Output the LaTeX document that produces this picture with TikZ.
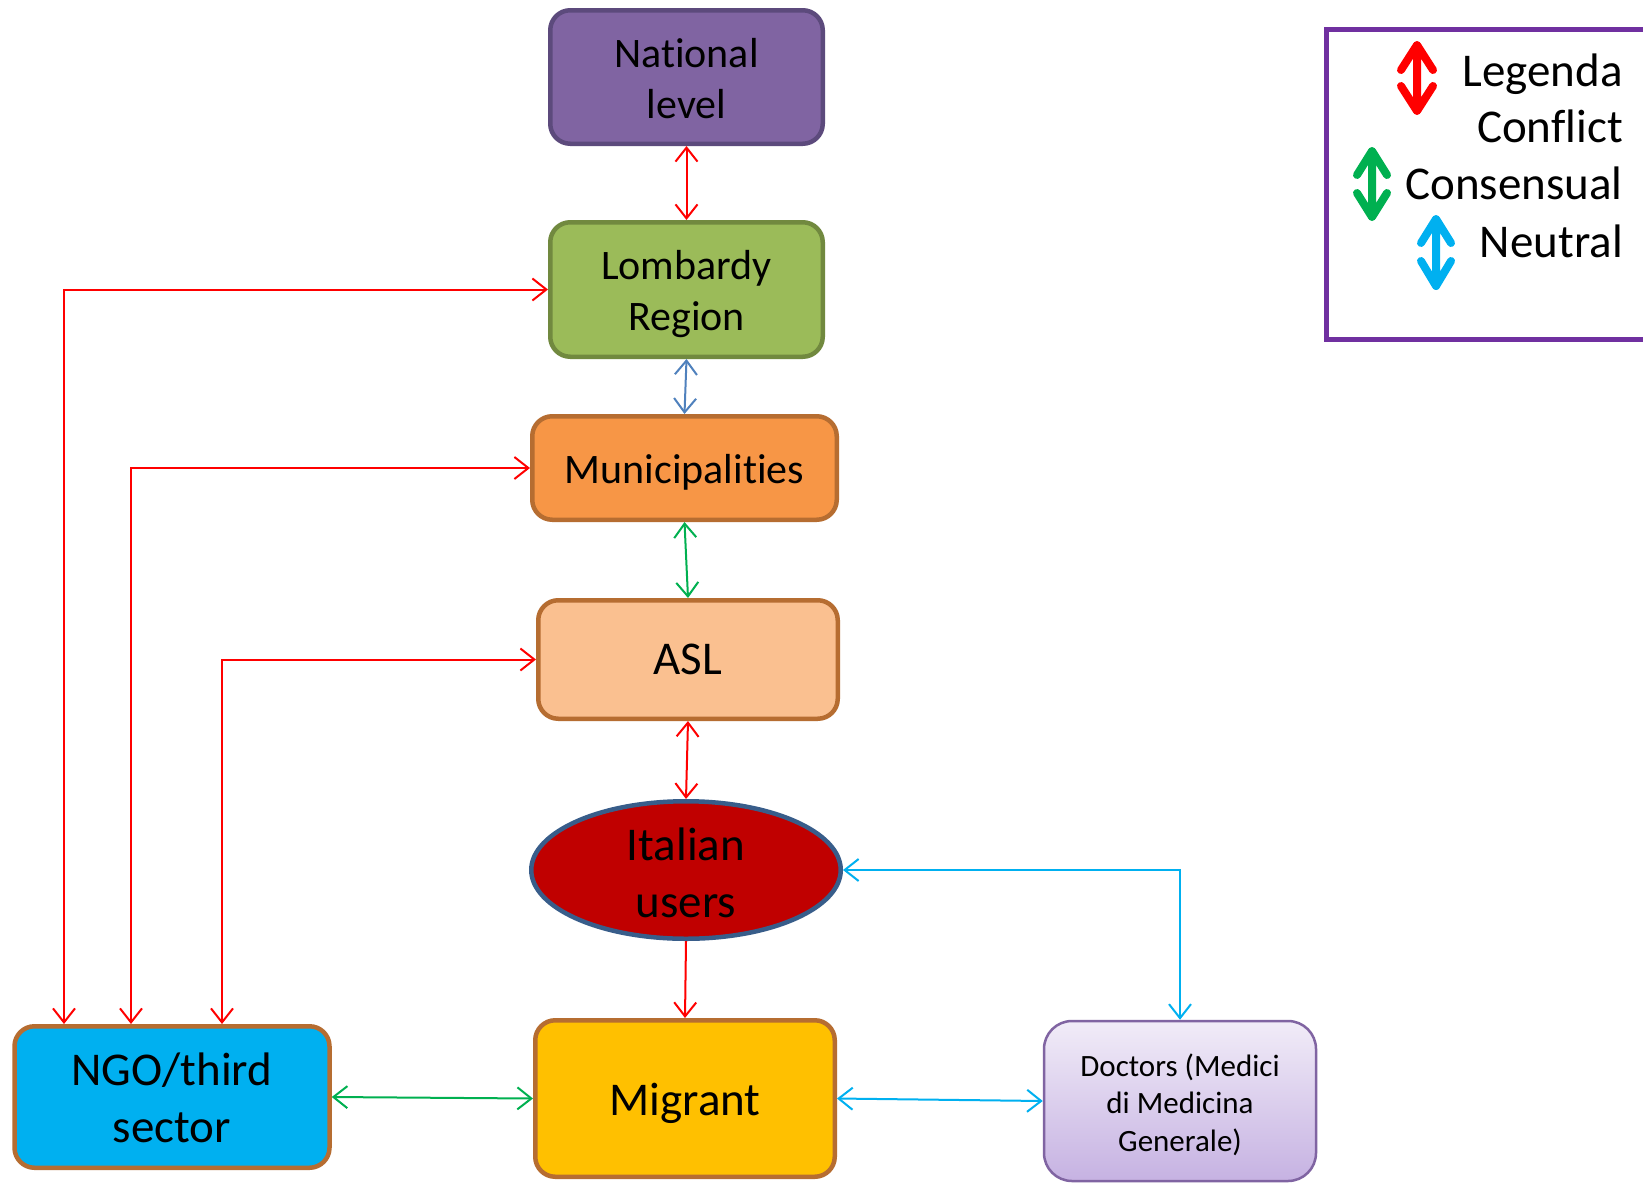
\documentclass[tikz,border=0pt]{standalone}
\usepackage{fontspec}
\setmainfont[Ligatures={NoCommon}]{Carlito}
\usetikzlibrary{arrows.meta,shapes.geometric}
\definecolor{cRed}{HTML}{FF0000}
\definecolor{cGreen}{HTML}{00B050}
\definecolor{cCyan}{HTML}{00B0F0}
\definecolor{cSteel}{HTML}{4F81BD}
\definecolor{natFill}{HTML}{8064A2}
\definecolor{natLine}{HTML}{5C4A7C}
\definecolor{lomFill}{HTML}{9BBB59}
\definecolor{lomLine}{HTML}{71893F}
\definecolor{munFill}{HTML}{F79646}
\definecolor{brownLine}{HTML}{B66D31}
\definecolor{aslFill}{HTML}{FAC090}
\definecolor{itaFill}{HTML}{C00000}
\definecolor{itaLine}{HTML}{385D8A}
\definecolor{migFill}{HTML}{FFC000}
\definecolor{ngoFill}{HTML}{00B0F0}
\definecolor{docTop}{HTML}{F1ECF8}
\definecolor{docBot}{HTML}{C6B2E2}
\definecolor{docLine}{HTML}{8064A2}
\definecolor{legLine}{HTML}{7030A0}
\begin{document}
\begin{tikzpicture}[x=1pt,y=-1pt,
  box/.style={draw, line width=4.5pt, rounded corners=20pt, inner sep=0pt, align=center},
  txtA/.style={font=\fontsize{42}{51}\selectfont},
  txtB/.style={font=\fontsize{47}{57}\selectfont},
  link/.style={line width=2pt, >={Straight Barb[length=14pt,width=22pt]}},
  conflict/.style={link, draw=cRed},
  consensual/.style={link, draw=cGreen},
  neutral/.style={link, draw=cCyan},
  neutralb/.style={link, draw=cSteel},
  legarrow/.style={line width=8pt, line cap=round, line join=round},
  legtext/.style={anchor=base east, inner sep=0pt, font=\fontsize{47}{57}\selectfont}
]
\path[use as bounding box, fill=white] (0,0) rectangle (1643,1183);
\clip (0,0) rectangle (1643,1183);

% nodes
\node[box, txtA, fill=natFill, draw=natLine, minimum width=272.5pt, minimum height=133.5pt] (nat) at (686.5,77) {\rule{0pt}{0.75em}National\\level};
\node[box, txtA, fill=lomFill, draw=lomLine, minimum width=272.5pt, minimum height=134.5pt] (lom) at (686.5,289.5) {\rule{0pt}{0.9em}Lombardy\\Region};
\node[box, txtA, fill=munFill, draw=brownLine, minimum width=304.5pt, minimum height=103.5pt] (mun) at (684.5,468) {\rule{0pt}{0.9em}Municipalities};
\node[box, txtB, fill=aslFill, draw=brownLine, minimum width=299.5pt, minimum height=118.5pt] (asl) at (688,659.5) {ASL};
\node[ellipse, draw=itaLine, fill=itaFill, line width=4.5pt, inner sep=0pt, minimum width=309.5pt, minimum height=137.5pt] (ita) at (686,870) {};
\node[txtB, align=center, inner sep=0pt] (itatxt) at ([yshift=-2.5pt]ita.center) {Italian\\users};
\node[box, txtB, fill=migFill, draw=brownLine, minimum width=299.5pt, minimum height=156.5pt] (mig) at (685,1098.5) {\rule{0pt}{0.88em}Migrant};
\node[box, txtB, fill=ngoFill, draw=brownLine, minimum width=315pt, minimum height=141.5pt] (ngo) at (172,1097) {\rule{0pt}{0.75em}NGO/third\\sector};
\node[draw=docLine, line width=2.5pt, rounded corners=28pt, top color=docTop, bottom color=docBot, inner sep=0pt, align=center, minimum width=272pt, minimum height=160pt, font=\fontsize{31}{37.5}\selectfont] (doc) at (1180,1101) {\rule{0pt}{0.95em}Doctors (Medici\\di Medicina\\Generale)};

% connectors
\draw[conflict, <->] (nat.south) -- (lom.north);
\draw[neutralb, <->] (lom.south) -- (mun.north);
\draw[consensual, <->] (mun.south) -- (asl.north);
\draw[conflict, <->] (asl.south) -- (ita.north);
\draw[conflict, ->] (ita.south) -- (mig.north);
\draw[consensual, <->] (ngo.east) -- (mig.west);
\draw[neutral, <->] (mig.east) -- (doc.west);
\draw[neutral, <->] (ita.east) -| (doc.north);
\draw[conflict, <->] (lom.west) -| (64,0 |- ngo.north);
\draw[conflict, <->] (mun.west) -| (131,0 |- ngo.north);
\draw[conflict, <->] (asl.west) -| (222,0 |- ngo.north);

% legend
\draw[legLine, line width=5pt] (1326.5,29.5) rectangle (1660,339.5);
\node[legtext] (lg1) at (1623,86) {Legenda};
\node[legtext] (lg2) at (1623,142) {Conflict};
\node[legtext] (lg3) at (1623,199) {Consensual};
\node[legtext] (lg4) at (1623,257) {Neutral};
\draw[legarrow, draw=cRed] (1417,45) -- (1417,111)
  (1401,70) -- (1417,45) -- (1433,70)
  (1401,86) -- (1417,111) -- (1433,86);
\draw[legarrow, draw=cGreen] (1372,151) -- (1372,217)
  (1357,175) -- (1372,151) -- (1387,175)
  (1357,193) -- (1372,217) -- (1387,193);
\draw[legarrow, draw=cCyan] (1436,219) -- (1436,286)
  (1421,243) -- (1436,219) -- (1451,243)
  (1421,261) -- (1436,286) -- (1451,261);
\end{tikzpicture}
\end{document}
